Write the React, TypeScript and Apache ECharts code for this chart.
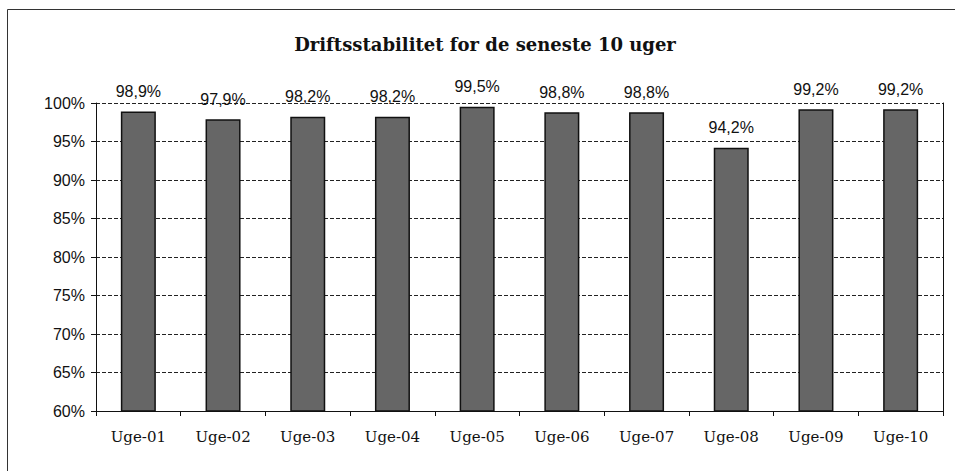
import React, { useEffect, useRef } from "react";
import * as echarts from "echarts";

const categories = ["Uge-01", "Uge-02", "Uge-03", "Uge-04", "Uge-05", "Uge-06", "Uge-07", "Uge-08", "Uge-09", "Uge-10"];
const values = [98.9, 97.9, 98.2, 98.2, 99.5, 98.8, 98.8, 94.2, 99.2, 99.2];
const titleText = "Driftsstabilitet for de seneste 10 uger";
const yMin = 60;
const yMax = 100;
const yStep = 5;

export default function App() {
  const ref = useRef<HTMLDivElement>(null);
  useEffect(() => {
    if (!ref.current) return;
    const chart = echarts.init(ref.current, null, { renderer: "svg" });
    chart.setOption({
      animation: false,
      backgroundColor: "#ffffff",
      title: {
        text: titleText,
        left: 480,
        top: 30,
        textAlign: "center",
        textStyle: { fontFamily: "DejaVu Serif", fontWeight: "bold", fontSize: 18, color: "#111" },
      },
      graphic: [
        {
          type: "rect",
          shape: { x: 7.5, y: 9.5, width: 960, height: 480 },
          style: { fill: "none", stroke: "#333", lineWidth: 1 },
          silent: true,
        },
      ],
      grid: { left: 96, right: 12, top: 103, bottom: 60 },
      xAxis: {
        type: "category",
        data: categories,
        axisLine: { lineStyle: { color: "#111", width: 1 } },
        axisTick: { show: true, alignWithLabel: false, length: 5, lineStyle: { color: "#111" } },
        axisLabel: { fontFamily: "DejaVu Serif", fontSize: 15, color: "#111", margin: 18 },
      },
      yAxis: [
        {
          type: "value",
          min: yMin,
          max: yMax,
          interval: yStep,
          axisLine: { show: true, lineStyle: { color: "#111", width: 1 } },
          axisTick: { show: true, length: 5, lineStyle: { color: "#111" } },
          axisLabel: {
            fontFamily: "Liberation Sans",
            fontSize: 16,
            color: "#111",
            margin: 11,
            formatter: (v: number) => `${v}%`,
          },
          splitLine: { show: true, lineStyle: { color: "#222", type: [4, 2], width: 1 } },
        },
        {
          type: "value",
          min: yMin,
          max: yMax,
          interval: yStep,
          position: "right",
          axisLine: { show: true, lineStyle: { color: "#111", width: 1 } },
          axisTick: { show: false },
          axisLabel: { show: false },
          splitLine: { show: false },
        },
      ],
      series: [
        {
          type: "bar",
          data: values,
          barWidth: 35,
          itemStyle: { color: "#666666", borderColor: "#111", borderWidth: 1.5 },
          label: {
            show: true,
            position: "top",
            distance: 12,
            fontFamily: "Liberation Sans",
            fontSize: 16,
            color: "#111",
            formatter: (p: any) => `${p.value.toFixed(1).replace(".", ",")}%`,
          },
        },
      ],
    });
    return () => chart.dispose();
  }, []);
  return <div ref={ref} style={{ position: "fixed", left: 0, top: 0, width: 955, height: 471 }} />;
}
